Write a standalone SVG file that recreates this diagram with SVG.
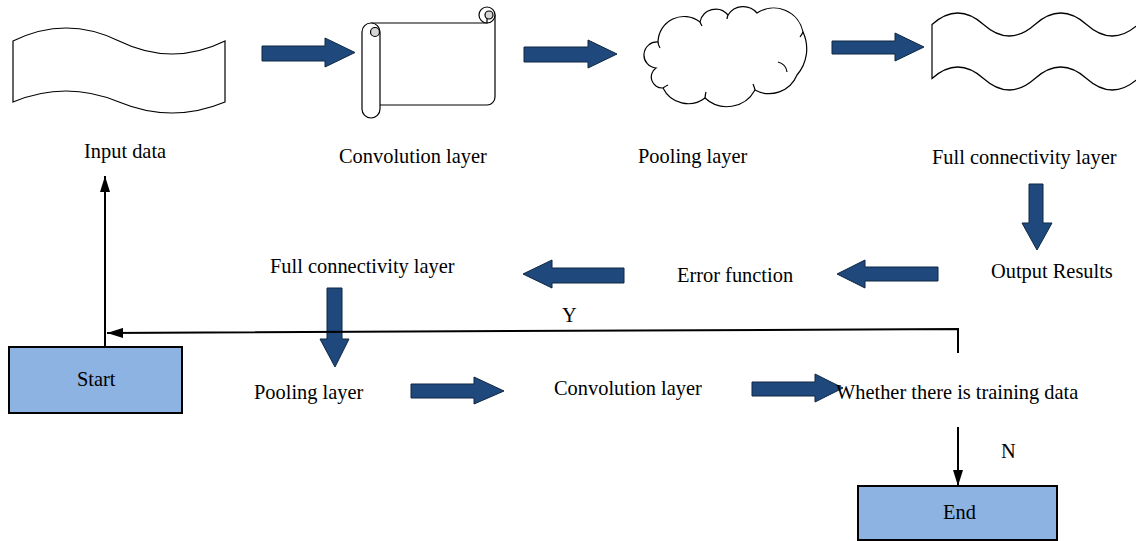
<svg xmlns="http://www.w3.org/2000/svg" width="1136" height="541" viewBox="0 0 1136 541">
  <style>
    .shape { fill: #ffffff; stroke: #000000; stroke-width: 1.2; }
    .curl { fill: #d6d6d6; stroke: #000000; stroke-width: 1.2; }
    .inner { fill: none; stroke: #000000; stroke-width: 1.2; }
    .box { fill: #8DB3E2; stroke: #000000; stroke-width: 2; }
    .block { fill: #1F497D; stroke: #0E2742; stroke-width: 1; }
    .line { fill: none; stroke: #000000; stroke-width: 2; }
    .label { font-family: "Liberation Serif", "Times New Roman", serif; font-size: 20.4px; fill: #000000; }
  </style>
  <defs>
    <marker id="arrowhead" markerUnits="userSpaceOnUse" markerWidth="16" markerHeight="10" viewBox="0 0 16 10" refX="16" refY="5" orient="auto">
      <path d="M0,0 L16,5 L0,10 Z" fill="#000000"/>
    </marker>
  </defs>

  <rect width="1136" height="541" fill="#ffffff"/>

  <!-- top row -->
  <g id="input-data">
    <path class="shape" d="M13,41 Q66,15 119,41 T225,41 L225,102 Q172,124 119,102 T13,102 Z"/>
    <text class="label" x="84" y="158">Input data</text>
  </g>

  <g id="convolution-layer-top">
    <!-- sheet body with the top-right roll -->
    <path class="shape" d="M371,23 L487,23 L487,15 A8,8 0 0 1 495,15 L495,97 A8,8 0 0 1 487,105 L380,105"/>
    <circle class="shape" cx="487" cy="15" r="8"/>
    <line class="inner" x1="487" y1="15" x2="487" y2="23"/>
    <circle class="curl" cx="489" cy="15" r="4"/>
    <!-- left roll -->
    <path class="shape" d="M362,32 A9,9 0 0 1 380,32 L380,109 A9,9 0 0 1 362,109 Z"/>
    <circle class="curl" cx="375" cy="32" r="4.5"/>
    <text class="label" x="339" y="163">Convolution layer</text>
  </g>

  <g id="pooling-layer-top">
    <path class="shape" d="M656,68 A13,13 0 0 1 658,42 A26,26 0 0 1 700,22 A16,16 0 0 1 728,15 A18,18 0 0 1 757,13 A30,30 0 0 1 803,32 A40,40 0 0 1 797,75 A30,30 0 0 1 755,90 A32,32 0 0 1 705,98 A28,28 0 0 1 663,88 A11,11 0 0 1 656,68 Z"/>
    <path class="inner" d="M658,42 A13,13 0 0 0 660,48 M700,22 A26,26 0 0 0 702,26 M728,15 A16,16 0 0 0 727,19 M803,32 A24,24 0 0 1 800,37 M778,62 A12,12 0 0 1 787,72 M755,90 A30,30 0 0 0 753,84 M705,98 A32,32 0 0 1 706,92 M663,88 A28,28 0 0 1 668,85"/>
    <text class="label" x="638" y="163">Pooling layer</text>
  </g>

  <g id="full-connectivity-top">
    <path class="shape" d="M932,24.5 Q957.75,1.5 983.5,24.5 T1035,24.5 T1086.5,24.5 T1138,24.5 L1138,78.5 Q1112.25,101.5 1086.5,78.5 T1035,78.5 T983.5,78.5 T932,78.5 Z"/>
    <text class="label" x="932" y="164">Full connectivity layer</text>
  </g>

  <!-- middle row -->
  <g id="output-results">
    <text class="label" x="991" y="278">Output Results</text>
  </g>
  <g id="error-function">
    <text class="label" x="677" y="282">Error function</text>
  </g>
  <g id="full-connectivity-bottom">
    <text class="label" x="270" y="273">Full connectivity layer</text>
  </g>

  <!-- connectors -->
  <g id="connectors">
    <polygon class="block" points="262,46 325,46 325,38 355,52.5 325,67 325,61 262,61"/>
    <polygon class="block" points="524,47 588,47 588,40 617,54 588,68 588,62 524,62"/>
    <polygon class="block" points="832,41 895,41 895,33 924,47 895,61 895,54 832,54"/>
    <polygon class="block" points="1029,184 1043,184 1043,223 1052,223 1037,250 1022,223 1029,223"/>
    <polygon class="block" points="938,267 865,267 865,260 837,274 865,288 865,281 938,281"/>
    <polygon class="block" points="624,268 552,268 552,260 523,274 552,288 552,283 624,283"/>
    <polygon class="block" points="327,288 342,288 342,339 349,339 335,367 320,339 327,339"/>
    <polygon class="block" points="411,384 474,384 474,377 504,391 474,404 474,398 411,398"/>
    <polygon class="block" points="752,382 815,382 815,374 843,388 815,402 815,396 752,396"/>

    <line class="line" x1="105" y1="347" x2="105" y2="176" marker-end="url(#arrowhead)"/>
    <polyline class="line" points="958,353 958,329 107,333" marker-end="url(#arrowhead)"/>
    <line class="line" x1="958" y1="427" x2="958" y2="486" marker-end="url(#arrowhead)"/>
    <text class="label" x="562" y="322">Y</text>
    <text class="label" x="1001" y="458">N</text>
  </g>

  <!-- bottom row -->
  <g id="start">
    <rect class="box" x="9" y="347" width="173" height="66"/>
    <text class="label" x="77" y="386">Start</text>
  </g>
  <g id="pooling-layer-bottom">
    <text class="label" x="254" y="399">Pooling layer</text>
  </g>
  <g id="convolution-layer-bottom">
    <text class="label" x="554" y="395">Convolution layer</text>
  </g>
  <g id="training-data-check">
    <text class="label" x="836" y="399">Whether there is training data</text>
  </g>
  <g id="end">
    <rect class="box" x="858" y="486" width="199" height="54"/>
    <text class="label" x="943" y="519">End</text>
  </g>
</svg>
